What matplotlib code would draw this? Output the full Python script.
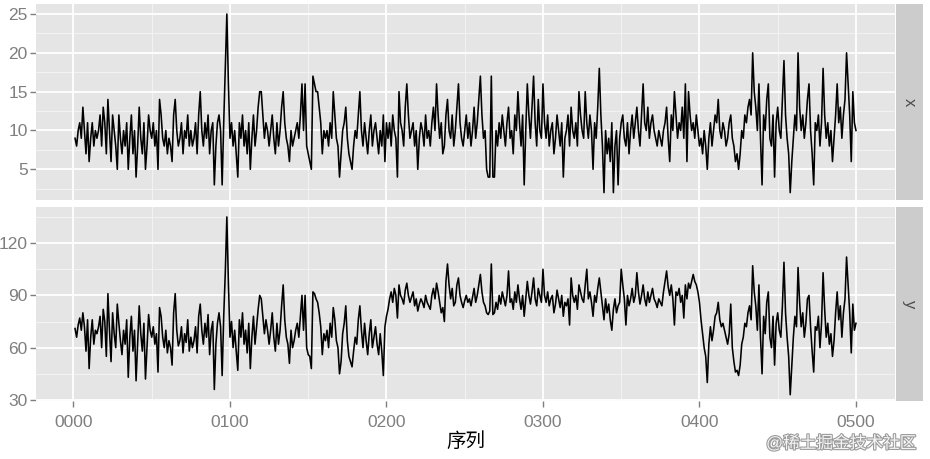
import matplotlib.pyplot as plt
import matplotlib.patheffects as pe
import numpy as np

plt.rcParams['font.family'] = ['Liberation Sans', 'Noto Sans CJK SC', 'DejaVu Sans']

# series x (top facet), 500 points
x_vals = [
    9, 8, 10, 11, 9, 13, 10, 7, 11, 6, 9, 11, 8, 10, 9, 10, 12, 8, 13, 11, 7, 14, 10, 6, 12,
    10, 8, 5, 12, 9, 7, 10, 8, 11, 5, 9, 12, 7, 10, 4, 8, 13, 9, 7, 11, 5, 8, 12, 10, 9,
    11, 8, 10, 5, 14, 12, 9, 8, 10, 7, 9, 8, 6, 12, 14, 10, 8, 9, 11, 7, 10, 9, 12, 8, 10,
    8, 9, 11, 7, 12, 15, 10, 8, 11, 9, 12, 7, 10, 11, 3, 8, 11, 12, 10, 3, 11, 18, 25, 16, 9,
    11, 8, 10, 7, 4, 11, 9, 12, 8, 10, 7, 11, 5, 9, 12, 8, 10, 13, 15, 15, 12, 9, 11, 10, 8,
    10, 12, 9, 7, 11, 8, 10, 13, 15, 11, 9, 8, 6, 10, 8, 9, 10, 11, 9, 12, 16, 10, 16, 8, 7,
    6, 5, 17, 16, 15, 15, 13, 11, 7, 10, 9, 10, 8, 11, 9, 15, 12, 9, 8, 4, 7, 10, 11, 13, 9,
    7, 6, 5, 8, 10, 9, 12, 15, 10, 8, 11, 9, 7, 10, 12, 8, 10, 11, 9, 7, 10, 8, 12, 6, 11,
    9, 11, 8, 12, 10, 9, 4, 15, 11, 10, 8, 13, 16, 12, 9, 10, 11, 8, 10, 5, 9, 11, 10, 8, 12,
    9, 10, 8, 11, 13, 10, 16, 12, 9, 11, 7, 8, 12, 14, 10, 9, 12, 8, 10, 13, 16, 11, 9, 8, 10,
    12, 9, 11, 8, 10, 13, 9, 11, 14, 17, 12, 9, 10, 5, 4, 4, 17, 4, 4, 10, 8, 11, 9, 12, 10,
    8, 11, 13, 9, 10, 7, 12, 10, 15, 11, 8, 12, 3, 10, 16, 12, 9, 13, 17, 11, 8, 14, 10, 9, 16,
    11, 9, 12, 8, 10, 11, 7, 9, 12, 10, 8, 11, 4, 9, 10, 12, 8, 13, 10, 9, 11, 8, 15, 12, 10,
    9, 15, 11, 9, 12, 10, 5, 11, 9, 13, 18, 12, 8, 2, 10, 7, 9, 6, 11, 2, 8, 10, 3, 9, 11,
    12, 9, 8, 11, 7, 10, 12, 9, 11, 13, 10, 8, 12, 16, 11, 10, 13, 9, 11, 12, 10, 9, 8, 10, 9,
    8, 10, 11, 13, 9, 6, 12, 10, 15, 12, 9, 11, 10, 13, 9, 16, 6, 15, 12, 10, 11, 9, 12, 10, 8,
    9, 7, 10, 8, 5, 9, 11, 8, 10, 12, 11, 14, 10, 9, 11, 10, 8, 9, 11, 12, 9, 8, 6, 7, 5,
    7, 10, 9, 12, 11, 13, 14, 12, 20, 15, 13, 10, 16, 9, 3, 12, 10, 14, 16, 9, 8, 12, 4, 11, 13,
    10, 9, 14, 19, 12, 9, 7, 2, 6, 9, 12, 10, 20, 13, 10, 12, 9, 11, 14, 16, 10, 7, 3, 11, 10,
    12, 8, 11, 18, 12, 9, 11, 8, 10, 6, 9, 12, 16, 11, 13, 9, 12, 14, 20, 16, 12, 6, 15, 11, 10,
]

# series y (bottom facet)
y_vals = [
    71, 66, 73, 77, 70, 80, 72, 58, 76, 48, 66, 76, 62, 70, 68, 72, 78, 60, 82, 75, 55, 91, 70, 52, 80,
    68, 60, 85, 74, 64, 56, 70, 62, 76, 43, 66, 78, 58, 70, 41, 62, 84, 68, 58, 74, 42, 60, 79, 70, 66,
    72, 62, 68, 46, 83, 78, 66, 60, 70, 57, 64, 60, 50, 80, 91, 70, 61, 64, 72, 57, 68, 63, 76, 58, 66,
    60, 64, 72, 57, 78, 85, 70, 62, 74, 66, 79, 56, 70, 75, 36, 62, 74, 80, 72, 44, 78, 103, 135, 97, 66,
    75, 60, 70, 58, 47, 76, 66, 80, 62, 70, 57, 74, 48, 66, 78, 62, 72, 82, 90, 88, 78, 68, 76, 70, 62,
    70, 80, 66, 58, 74, 62, 70, 84, 96, 76, 66, 62, 51, 70, 60, 64, 70, 74, 66, 78, 90, 70, 90, 60, 56,
    55, 48, 92, 91, 88, 86, 80, 72, 56, 68, 64, 70, 60, 74, 66, 83, 76, 64, 60, 45, 52, 68, 74, 84, 64,
    55, 52, 49, 58, 66, 62, 76, 84, 70, 60, 74, 64, 56, 68, 76, 60, 66, 72, 62, 56, 68, 58, 44, 72, 78,
    82, 88, 92, 86, 94, 90, 77, 96, 90, 88, 85, 93, 97, 90, 86, 89, 92, 84, 88, 81, 85, 88, 86, 83, 90,
    86, 84, 82, 90, 94, 88, 97, 92, 86, 80, 83, 75, 98, 108, 96, 88, 94, 84, 86, 96, 100, 90, 86, 83, 87,
    90, 86, 88, 84, 89, 94, 86, 90, 96, 102, 92, 86, 84, 80, 79, 81, 108, 79, 80, 86, 82, 90, 85, 92, 88,
    84, 90, 104, 86, 88, 82, 92, 86, 96, 88, 82, 90, 78, 88, 98, 90, 85, 92, 100, 88, 84, 94, 90, 86, 105,
    90, 86, 92, 84, 88, 90, 80, 85, 93, 88, 83, 90, 78, 86, 84, 88, 73, 100, 90, 86, 90, 82, 96, 92, 88,
    86, 96, 105, 88, 92, 86, 78, 90, 86, 94, 100, 92, 84, 76, 88, 80, 85, 76, 70, 82, 88, 80, 84, 86, 105,
    96, 88, 73, 90, 84, 88, 94, 86, 90, 103, 92, 85, 90, 96, 88, 84, 92, 86, 90, 94, 88, 86, 83, 88, 86,
    84, 92, 98, 104, 95, 90, 96, 88, 73, 92, 90, 94, 86, 90, 77, 96, 88, 97, 94, 98, 102, 98, 96, 92, 86,
    76, 68, 60, 55, 40, 62, 72, 64, 70, 78, 80, 86, 76, 72, 74, 70, 66, 62, 68, 85, 60, 52, 46, 47, 44,
    50, 62, 66, 74, 72, 80, 84, 76, 107, 92, 84, 70, 96, 66, 45, 78, 68, 86, 92, 66, 60, 78, 50, 74, 80,
    70, 66, 84, 109, 80, 66, 55, 33, 50, 66, 78, 72, 106, 86, 72, 80, 66, 74, 88, 90, 72, 58, 46, 72, 70,
    78, 60, 74, 103, 82, 66, 74, 62, 68, 55, 64, 80, 92, 76, 84, 66, 80, 88, 112, 96, 80, 57, 85, 70, 74,
]

facet_names = ['x', 'y']
x_ticks = [0, 100, 200, 300, 400, 500]
x_ticklabels = ['0000', '0100', '0200', '0300', '0400', '0500']

grey_txt = '#7F7F7F'
W, H = 930, 459


def rect(x0, y0, x1, y1):
    # pixel box -> figure fraction
    return [x0 / W, 1 - y1 / H, (x1 - x0) / W, (y1 - y0) / H]


fig = plt.figure(figsize=(9.3, 4.59), dpi=100)


def panel(box, vals, ylim, majors, minors, name, bottom):
    ax = fig.add_axes(rect(*box))
    ax.set_facecolor('#E5E5E5')
    idx = np.arange(1, len(vals) + 1)
    ax.plot(idx, vals, color='black', lw=1.15, zorder=3)
    ax.set_xlim(-23.95, 524.95)
    ax.set_ylim(*ylim)
    for v in minors:
        ax.axhline(v, color='#F2F2F2', lw=0.8, zorder=1)
    for v in range(50, 500, 100):
        ax.axvline(v, color='#F2F2F2', lw=0.8, zorder=1)
    for v in majors:
        ax.axhline(v, color='white', lw=1.3, zorder=2)
    for v in x_ticks:
        ax.axvline(v, color='white', lw=1.3, zorder=2)
    for s in ax.spines.values():
        s.set_visible(False)
    ax.set_yticks(majors)
    ax.tick_params(axis='y', colors=grey_txt, length=4, width=1, labelsize=12.5, pad=2)
    ax.set_xticks(x_ticks)
    if bottom:
        ax.set_xticklabels(x_ticklabels)
        ax.tick_params(axis='x', colors=grey_txt, length=4, width=1, labelsize=12.5, pad=6)
    else:
        ax.tick_params(axis='x', length=0, labelbottom=False)
    # facet strip on the right
    st = fig.add_axes(rect(896, box[1], 923, box[3]))
    st.set_facecolor('#CCCCCC')
    st.set_xticks([])
    st.set_yticks([])
    for s in st.spines.values():
        s.set_visible(False)
    st.text(0.5, 0.5, name, rotation=-90, ha='center', va='center',
            fontsize=12, color='#4D4D4D', transform=st.transAxes)
    return ax


ax1 = panel((36, 4, 895, 200), x_vals, (1.05, 26.29),
            [5, 10, 15, 20, 25], [2.5, 7.5, 12.5, 17.5, 22.5], facet_names[0], False)
ax2 = panel((36, 207, 895, 401), y_vals, (29.4, 140.7),
            [30, 60, 90, 120], [45, 75, 105, 135], facet_names[1], True)

fig.text(465.5 / W, 1 - 442 / H, '序列', ha='center', va='center', fontsize=14, color='black')

# watermark, kept just under the last tick label
fig.text(916 / W, 1 - 443 / H, '@稀土掘金技术社区', ha='right', va='center', fontsize=12,
         color='#F4F4F4',
         path_effects=[pe.withStroke(linewidth=1.6, foreground='#9C9C9C')])

fig.savefig('out.png', dpi=100)
